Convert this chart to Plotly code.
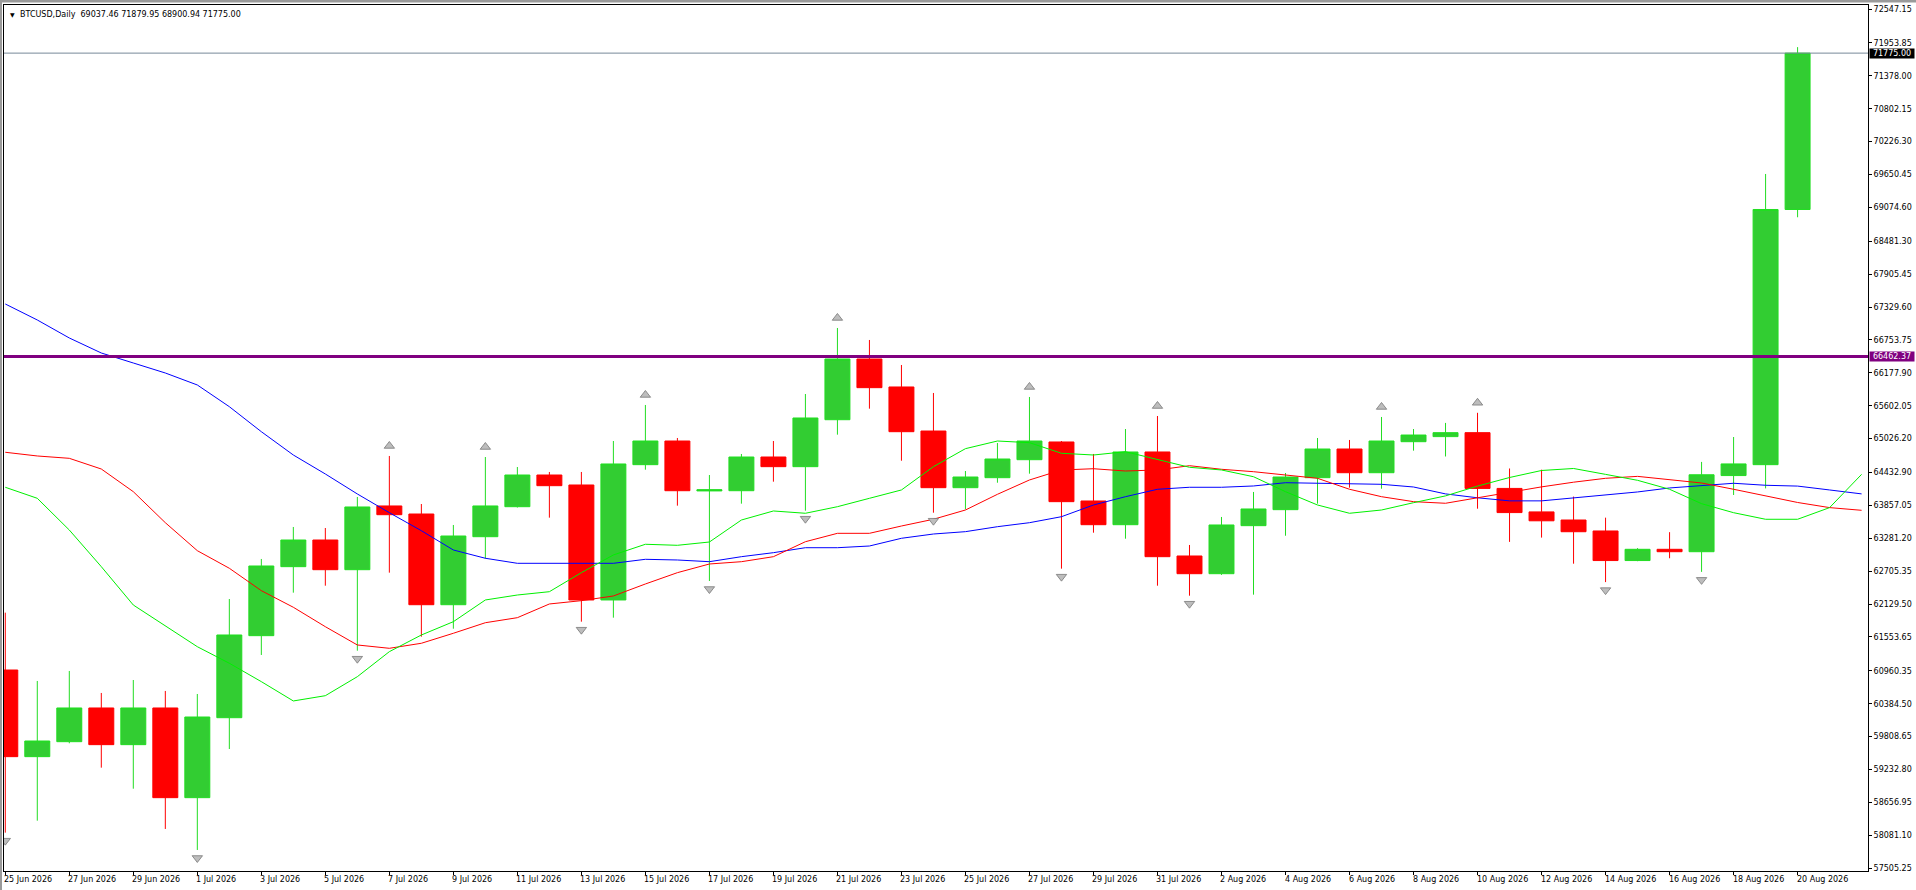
import pandas as pd
import plotly.graph_objects as go

# daily BTCUSD bars, 25 Jun .. 20 Aug 2026
dates = pd.date_range('2026-06-25', periods=57, freq='D')
opens = [60975, 59458, 59720, 60310, 59668, 60310, 58740, 60140, 61576, 62784,
         63251, 62731, 63847, 63706, 62118, 63309, 63834, 64389, 64214, 62201,
         64570, 64984, 64110, 64114, 64704, 64535, 65357, 66420, 65930, 65159,
         64167, 64342, 64657, 64967, 63934, 63519, 64792, 62971, 62661, 63502,
         63782, 64342, 64844, 64429, 64972, 65061, 65130, 64154, 63743, 63601,
         63409, 62891, 63088, 63046, 64379, 64570, 69037.46]
highs = [61979, 60783, 60958, 60573, 60800, 60608, 60555, 62218, 62919, 63479,
         63461, 64004, 64722, 63881, 63514, 64704, 64529, 64442, 64442, 64984,
         65615, 65037, 64389, 64757, 64984, 65807, 66963, 66753, 66315, 65825,
         64459, 64949, 65755, 64984, 64757, 65194, 65422, 63164, 63654, 64092,
         64424, 65037, 65002, 65405, 65194, 65301, 65478, 64503, 64482, 64011,
         63642, 63109, 63388, 64618, 65054, 69659, 71879.95]
lows = [58127, 58337, 59692, 59265, 58897, 58192, 57824, 59592, 61238, 62329,
        62451, 61313, 62679, 61558, 61698, 62924, 63820, 63642, 61821, 61891,
        64482, 63852, 62533, 63887, 64272, 63764, 65095, 65550, 64639, 63729,
        63789, 64254, 64412, 62749, 63379, 63274, 62451, 62276, 62640, 62294,
        63326, 63887, 64167, 64149, 64815, 64713, 63799, 63218, 63293, 62836,
        62514, 62880, 62931, 62693, 64039, 64154, 68900.94]
closes = [59458, 59732, 60310, 59668, 60310, 58740, 60152, 61588, 62796, 63251,
          62731, 63829, 63694, 62118, 63321, 63847, 64389, 64202, 62201, 64582,
          64984, 64114, 64130, 64704, 64535, 65387, 66420, 65918, 65147, 64167,
          64354, 64669, 64984, 63922, 63519, 64792, 62959, 62661, 63514, 63794,
          64354, 64844, 64429, 64984, 65089, 65130, 64154, 63731, 63587, 63396,
          62891, 63088, 63046, 64393, 64583, 69037.46, 71775.00]

# moving averages (drawn 2 bars ahead of price)
ma_dates = pd.date_range('2026-06-25', periods=59, freq='D')
ma_green = [64174, 63981, 63426, 62784, 62113, 61751, 61383, 61093, 60771, 60433,
            60525, 60858, 61296, 61588, 61821, 62201, 62288, 62346, 62679, 62989,
            63176, 63158, 63216, 63601, 63759, 63719, 63834, 63981, 64127, 64535,
            64850, 64984, 64955, 64769, 64739, 64797, 64664, 64524, 64477, 64359,
            64097, 63864, 63719, 63776, 63904, 64023, 64195, 64345, 64468, 64503,
            64400, 64296, 64139, 63887, 63729, 63614, 63614, 63818, 64400]
ma_red = [64787, 64722, 64681, 64494, 64097, 63554, 63064, 62756, 62364, 62073,
          61733, 61413, 61355, 61443, 61618, 61803, 61891, 62131, 62189, 62271,
          62481, 62679, 62831, 62871, 62959, 63221, 63368, 63368, 63496, 63614,
          63776, 64051, 64302, 64477, 64499, 64459, 64477, 64552, 64489, 64447,
          64389, 64331, 64139, 64009, 63922, 63894, 63990, 64092, 64181, 64263,
          64331, 64365, 64310, 64249, 64139, 64023, 63908, 63818, 63771]
ma_blue = [67383, 67103, 66788, 66525, 66350, 66175, 65965, 65585, 65147, 64739,
           64407, 64057, 63729, 63414, 63076, 62931, 62843, 62843, 62854, 62843,
           62913, 62901, 62871, 62959, 63029, 63116, 63116, 63146, 63281, 63356,
           63397, 63484, 63554, 63659, 63864, 64009, 64139, 64174, 64174, 64197,
           64254, 64244, 64226, 64226, 64179, 64058, 63990, 63936, 63936, 63990,
           64044, 64092, 64162, 64209, 64244, 64209, 64195, 64127, 64058]

# fractal days
up_fractals = ['2026-07-07', '2026-07-10', '2026-07-15', '2026-07-21',
               '2026-07-27', '2026-07-31', '2026-08-07', '2026-08-10']
down_fractals = ['2026-06-25', '2026-07-01', '2026-07-06', '2026-07-13',
                 '2026-07-17', '2026-07-20', '2026-07-24', '2026-07-28',
                 '2026-08-01', '2026-08-14', '2026-08-17']

level_price = 66462.37
last_price = closes[-1]

price_ticks = [72547.15, 71953.85, 71378.00, 70802.15, 70226.30, 69650.45,
               69074.60, 68481.30, 67905.45, 67329.60, 66753.75, 66177.90,
               65602.05, 65026.20, 64432.90, 63857.05, 63281.20, 62705.35,
               62129.50, 61553.65, 60960.35, 60384.50, 59808.65, 59232.80,
               58656.95, 58081.10, 57505.25]
date_ticks = dates[::2]

W, H = 1916, 890
ML, MR, MT, MB = 4, 48, 5, 19
PW, PH = W - ML - MR, H - MT - MB
y_lo, y_hi = 57456, 72617.5
per_px = (y_hi - y_lo) / PH
FONT = 'DejaVu Sans'

def px_x(px):
    return (px - ML) / PW

def px_y(py):
    return (H - MB - py) / PH

fig = go.Figure()
fig.add_trace(go.Candlestick(
    x=dates, open=opens, high=highs, low=lows, close=closes,
    increasing=dict(line=dict(color='#22DD22', width=1), fillcolor='#32CD32'),
    decreasing=dict(line=dict(color='#FF0000', width=1), fillcolor='#FF0000'),
    whiskerwidth=0, hoverinfo='skip', showlegend=False))

for vals, col in [(ma_blue, '#0000FF'), (ma_red, '#FF0000'), (ma_green, '#00F000')]:
    fig.add_trace(go.Scatter(x=ma_dates, y=vals, mode='lines',
                             line=dict(color=col, width=1), hoverinfo='skip',
                             showlegend=False))

hi_by_day = dict(zip(dates.strftime('%Y-%m-%d'), highs))
lo_by_day = dict(zip(dates.strftime('%Y-%m-%d'), lows))
fig.add_trace(go.Scatter(
    x=up_fractals, y=[hi_by_day[d] + 10 * per_px for d in up_fractals],
    mode='markers', hoverinfo='skip', showlegend=False,
    marker=dict(symbol='triangle-up', size=9, color='#BDBDBD',
                line=dict(color='#777777', width=0.8))))
fig.add_trace(go.Scatter(
    x=down_fractals, y=[lo_by_day[d] - 8 * per_px for d in down_fractals],
    mode='markers', hoverinfo='skip', showlegend=False,
    marker=dict(symbol='triangle-down', size=9, color='#BDBDBD',
                line=dict(color='#777777', width=0.8))))

shapes = [
    dict(type='line', xref='paper', x0=0, x1=1, yref='y', y0=last_price, y1=last_price,
         line=dict(color='#778899', width=1)),
    dict(type='line', xref='paper', x0=0, x1=1, yref='y', y0=level_price, y1=level_price,
         line=dict(color='#800080', width=3)),
    # window frame
    dict(type='rect', xref='paper', yref='paper', x0=px_x(0), x1=px_x(2),
         y0=px_y(H), y1=px_y(0), fillcolor='#9A9A9A', line=dict(width=0)),
    dict(type='rect', xref='paper', yref='paper', x0=px_x(0), x1=px_x(W),
         y0=px_y(2.5), y1=px_y(0), fillcolor='#9A9A9A', line=dict(width=0)),
]

annotations = [
    dict(xref='paper', yref='paper', x=px_x(8), y=px_y(14), xanchor='left',
         yanchor='middle', text='\u25bc', showarrow=False,
         font=dict(family=FONT, size=6, color='black')),
    dict(xref='paper', yref='paper', x=px_x(18), y=px_y(14.3), xanchor='left',
         yanchor='middle', showarrow=False,
         text=f'BTCUSD,Daily\u00a0\u00a0{opens[-1]:.2f} {highs[-1]:.2f} {lows[-1]:.2f} {closes[-1]:.2f}',
         font=dict(family=FONT, size=8, color='black')),
]
for val, bg in [(last_price, '#000000'), (level_price, '#800080')]:
    annotations.append(dict(
        xref='paper', yref='y', x=1, y=val, xanchor='left', yanchor='middle',
        xshift=1, text=f'{val:.2f}', showarrow=False, bgcolor=bg, width=44,
        height=9, borderpad=0, align='center',
        font=dict(family=FONT, size=8, color='white')))
for d in date_ticks:
    annotations.append(dict(
        xref='x', yref='paper', x=d, y=0, xanchor='left', yanchor='middle',
        yshift=-8, xshift=-3, text=f'{d.day} {d.strftime("%b %Y")}',
        showarrow=False, font=dict(family=FONT, size=8, color='black')))

fig.update_layout(
    width=W, height=H,
    margin=dict(l=ML, r=MR, t=MT, b=MB),
    paper_bgcolor='white', plot_bgcolor='white',
    boxgap=0.22, boxgroupgap=0,
    showlegend=False,
    shapes=shapes, annotations=annotations,
    xaxis=dict(type='date', range=['2026-06-24 23:02', '2026-08-22 04:48'],
               rangeslider=dict(visible=False), tickvals=list(date_ticks),
               showticklabels=False, ticks='outside', ticklen=3, tickcolor='black',
               showgrid=False, zeroline=False, showline=True, linecolor='black',
               linewidth=1, mirror=True),
    yaxis=dict(side='right', range=[y_lo, y_hi], tickvals=price_ticks,
               ticktext=[f'{v:.2f}' for v in price_ticks], ticks='outside',
               ticklen=3, tickcolor='black', showgrid=False, zeroline=False,
               showline=True, linecolor='black', linewidth=1, mirror=True,
               tickfont=dict(family=FONT, size=8, color='black')),
)

# page body has a default margin; drop it so the chart fills the window
fig.write_html('out.html', config={'displayModeBar': False},
               post_script="document.body.style.margin='0';")
